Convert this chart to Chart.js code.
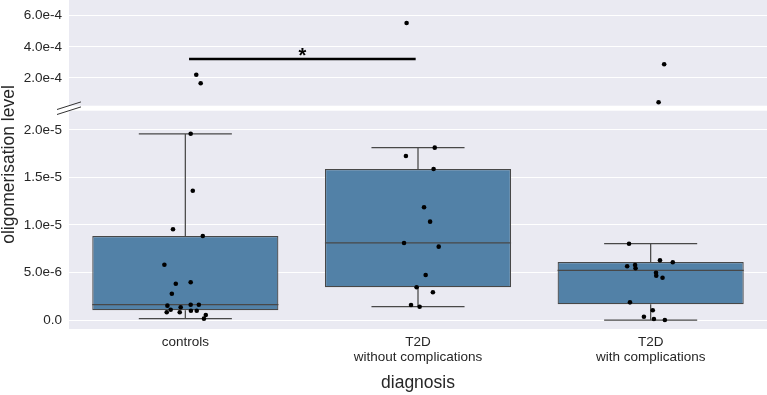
<!DOCTYPE html>
<html>
<head>
<meta charset="utf-8">
<title>oligomerisation level by diagnosis</title>
<script src="https://cdn.jsdelivr.net/npm/chart.js@4.4.1/dist/chart.umd.min.js"></script>
<style>
  html, body { margin: 0; padding: 0; background: #fff; }
  canvas { display: block; }
</style>
</head>
<body>
<canvas id="chart" width="767" height="395"></canvas>
<script>
// --- data ---
const categories = ['controls', ['T2D', 'without complications'], ['T2D', 'with complications']];

// box statistics per category
const whiskerLow = [1.4e-7, 1.40e-6, 0];
const quartile1 = [1.02e-6, 3.44e-6, 1.65e-6];
const medians = [1.61e-6, 8.11e-6, 5.23e-6];
const quartile3 = [8.84e-6, 1.589e-5, 6.11e-6];
const whiskerHigh = [1.96e-5, 1.814e-5, 8.03e-6];

// strip points (value + horizontal jitter in category units)
const controlsValues = [1.96e-5, 1.361e-5, 9.55e-6, 8.84e-6, 5.82e-6, 3.82e-6, 3.97e-6, 2.77e-6, 1.51e-6, 1.61e-6,
  1.61e-6, 1.34e-6, 1.08e-6, 8.1e-7, 8.1e-7, 9.8e-7, 9.8e-7, 5.3e-7, 1.4e-7];
const controlsJitter = [0.023, 0.032, -0.053, 0.075, -0.090, -0.041, 0.023, -0.058, -0.077, 0.023,
  0.058, -0.020, -0.063, -0.080, -0.024, 0.024, 0.049, 0.088, 0.080];
const t2dValues = [1.814e-5, 1.726e-5, 1.589e-5, 1.186e-5, 1.035e-5, 8.11e-6, 7.72e-6, 4.74e-6, 3.44e-6, 2.92e-6, 1.58e-6, 1.40e-6];
const t2dJitter = [0.072, -0.052, 0.067, 0.026, 0.052, -0.060, 0.089, 0.033, -0.006, 0.064, -0.030, 0.007];
const complValues = [8.03e-6, 6.28e-6, 6.07e-6, 5.65e-6, 5.79e-6, 5.44e-6, 4.98e-6, 4.66e-6, 4.45e-6, 1.86e-6, 1.02e-6, 3.5e-7, 1.1e-7, 0];
const complJitter = [-0.093, 0.040, 0.095, -0.101, -0.067, -0.065, 0.023, 0.024, 0.051, -0.089, 0.009, -0.029, 0.014, 0.061];

// outliers shown in the upper panel
const outlierValues = [2.21e-4, 1.66e-4, 5.53e-4, 2.88e-4, 4.4e-5];
const outlierGroup = [0, 0, 1, 2, 2];
const outlierJitter = [0.047, 0.066, -0.049, 0.058, 0.034];

// significance bar between controls and T2D without complications
const sigSpan = [0.016, 0.99];
const sigLevel = 3.22e-4;
const sigMark = '*';

// tick labels
const lowTicks = [0, 5e-6, 1e-5, 1.5e-5, 2e-5];
const lowTickLabels = ['0.0', '5.0e-6', '1.0e-5', '1.5e-5', '2.0e-5'];
const highTicks = [2e-4, 4e-4, 6e-4];
const highTickLabels = ['2.0e-4', '4.0e-4', '6.0e-4'];

// --- styling ---
const FONT = '"Liberation Sans", Arial, sans-serif';
const TEXT = '#262626';
const BG = '#eaeaf2';
const BOX = '#5281a7';
const EDGE = '#484848';
const GAP = 5;

const lowPoints = [];
[controlsValues, t2dValues, complValues].forEach((vals, g) => {
  const jit = [controlsJitter, t2dJitter, complJitter][g];
  vals.forEach((v, k) => lowPoints.push({ x: g + jit[k], y: v }));
});
const highPoints = outlierValues.map((v, k) => ({ x: outlierGroup[k] + outlierJitter[k], y: v }));

// no extra padding around the plot area, the axes have fixed sizes
function noPadding(s) {
  s.paddingTop = 0; s.paddingBottom = 0; s.paddingLeft = 0; s.paddingRight = 0;
}

const brokenAxis = {
  id: 'brokenAxis',
  beforeDraw(chart) {
    const { ctx, chartArea: a, scales } = chart;
    ctx.save();
    ctx.fillStyle = '#fff';
    ctx.fillRect(0, 0, chart.width, chart.height);
    ctx.fillStyle = BG;
    const top = scales.yTop, low = scales.y;
    ctx.fillRect(a.left, top.top, a.right - a.left, top.bottom - GAP / 2 - top.top);
    ctx.fillRect(a.left, low.top + GAP / 2, a.right - a.left, low.bottom - low.top - GAP / 2);
    ctx.restore();
  },
  afterDatasetDraw(chart, args) {
    if (args.meta.type !== 'bar') return;
    const { ctx, scales } = chart;
    const sy = scales.y;
    ctx.save();
    ctx.strokeStyle = EDGE;
    ctx.lineWidth = 1.25;
    args.meta.data.forEach((bar, i) => {
      const cx = bar.x, half = bar.width / 2;
      const yLo = sy.getPixelForValue(whiskerLow[i]);
      const yHi = sy.getPixelForValue(whiskerHigh[i]);
      const yQ1 = sy.getPixelForValue(quartile1[i]);
      const yQ3 = sy.getPixelForValue(quartile3[i]);
      const yMed = sy.getPixelForValue(medians[i]);
      ctx.beginPath();
      ctx.moveTo(cx, yQ1); ctx.lineTo(cx, yLo);
      ctx.moveTo(cx, yQ3); ctx.lineTo(cx, yHi);
      ctx.moveTo(cx - half / 2, yLo); ctx.lineTo(cx + half / 2, yLo);
      ctx.moveTo(cx - half / 2, yHi); ctx.lineTo(cx + half / 2, yHi);
      ctx.moveTo(cx - half, yMed); ctx.lineTo(cx + half, yMed);
      ctx.stroke();
    });
    ctx.restore();
  },
  afterDraw(chart) {
    const { ctx, chartArea: a, scales } = chart;
    const top = scales.yTop, low = scales.y, sx = scales.x;
    ctx.save();
    // break marks
    ctx.strokeStyle = '#333';
    ctx.lineWidth = 1;
    [top.bottom - GAP / 2, low.top + GAP / 2].forEach(cy => {
      ctx.beginPath();
      ctx.moveTo(a.left - 12, cy + 3.8);
      ctx.lineTo(a.left + 12, cy - 3.8);
      ctx.stroke();
    });
    // significance star
    ctx.fillStyle = '#000';
    ctx.font = 'bold 20px ' + FONT;
    ctx.textAlign = 'center';
    const m = ctx.measureText(sigMark);
    const starX = sx.getPixelForValue((sigSpan[0] + sigSpan[1]) / 2);
    const starCy = top.getPixelForValue(sigLevel) - 7.3;
    ctx.textBaseline = 'alphabetic';
    ctx.fillText(sigMark, starX, starCy + (m.actualBoundingBoxAscent - m.actualBoundingBoxDescent) / 2);
    // y axis title, centred on both panels
    ctx.fillStyle = TEXT;
    ctx.font = '17.5px ' + FONT;
    ctx.translate(14, (a.top + a.bottom) / 2);
    ctx.rotate(-Math.PI / 2);
    ctx.fillText('oligomerisation level', 0, 0);
    ctx.restore();
  }
};

const ctx = document.getElementById('chart').getContext('2d');
new Chart(ctx, {
  type: 'bar',
  data: {
    datasets: [
      {
        type: 'scatter',
        data: lowPoints,
        xAxisID: 'x', yAxisID: 'y',
        pointRadius: 2.3, pointBackgroundColor: '#000', pointBorderWidth: 0,
        order: 1
      },
      {
        type: 'scatter',
        data: highPoints,
        xAxisID: 'x', yAxisID: 'yTop',
        pointRadius: 2.3, pointBackgroundColor: '#000', pointBorderWidth: 0,
        order: 1
      },
      {
        type: 'line',
        data: sigSpan.map(x => ({ x: x, y: sigLevel })),
        xAxisID: 'x', yAxisID: 'yTop',
        borderColor: '#000', borderWidth: 2.5, pointRadius: 0, fill: false,
        order: 2
      },
      {
        type: 'bar',
        data: categories.map((c, i) => ({ x: i, y: [quartile1[i], quartile3[i]] })),
        xAxisID: 'x', yAxisID: 'y',
        backgroundColor: BOX, borderColor: EDGE, borderWidth: 1.25, borderSkipped: false,
        barPercentage: 0.8, categoryPercentage: 1,
        order: 3
      }
    ]
  },
  options: {
    responsive: false,
    devicePixelRatio: 1,
    animation: false,
    events: [],
    layout: { padding: 0, autoPadding: false },
    plugins: { legend: { display: false }, tooltip: { enabled: false } },
    scales: {
      x: {
        type: 'linear', position: 'bottom', min: -0.5, max: 2.5, offset: false,
        grid: { display: false, drawTicks: false },
        border: { display: false },
        afterBuildTicks: s => { s.ticks = categories.map((c, i) => ({ value: i })); },
        afterFit: s => { s.height = 66; noPadding(s); },
        ticks: {
          padding: 5.5, autoSkip: false, maxRotation: 0, color: TEXT,
          font: { family: FONT, size: 13.5, lineHeight: 1.11 },
          callback: (v, i) => categories[i]
        },
        title: {
          display: true, text: 'diagnosis', color: TEXT,
          font: { family: FONT, size: 17.5 }, padding: { top: 0, bottom: 1 }
        }
      },
      y: {
        type: 'linear', position: 'left', stack: 'panels', stackWeight: 220.8, weight: 0,
        min: -9.47e-7, max: 2.229e-5,
        grid: { color: '#fff', lineWidth: 1, drawTicks: false },
        border: { display: false },
        afterBuildTicks: s => { s.ticks = lowTicks.map(v => ({ value: v })); },
        afterFit: s => { s.width = 69; noPadding(s); },
        ticks: { padding: 7, color: TEXT, font: { family: FONT, size: 13.5 }, callback: (v, i) => lowTickLabels[i] }
      },
      yTop: {
        type: 'linear', position: 'left', stack: 'panels', stackWeight: 108.2, weight: 1,
        min: 6.1e-6, max: 7.008e-4,
        grid: { color: '#fff', lineWidth: 1, drawTicks: false },
        border: { display: false },
        afterBuildTicks: s => { s.ticks = highTicks.map(v => ({ value: v })); },
        afterFit: s => { s.width = 69; noPadding(s); },
        ticks: { padding: 7, color: TEXT, font: { family: FONT, size: 13.5 }, callback: (v, i) => highTickLabels[i] }
      }
    }
  },
  plugins: [brokenAxis]
});
</script>
</body>
</html>
